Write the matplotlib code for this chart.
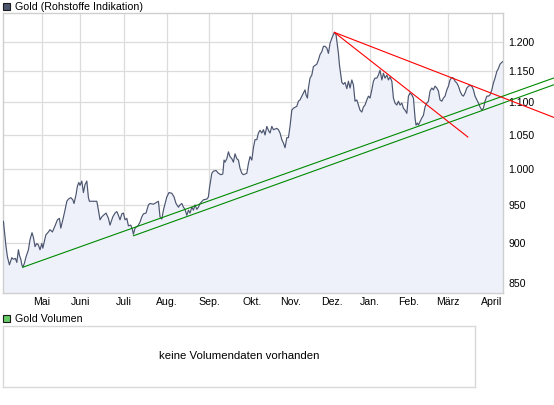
import matplotlib
matplotlib.use('Agg')
import matplotlib.pyplot as plt
from matplotlib.patches import Rectangle
from matplotlib.ticker import NullLocator

# Gold price, one year (trading-day index vs. USD)
DAYS = [
    0.2, 1.5, 2.2, 3.2, 4.4, 5.2, 6.2, 6.9, 7.7, 8.2, 8.9, 9.4, 9.9, 10.7, 11.5, 12.7,
    13.5, 14.5, 15.2, 16.0, 16.9, 17.7, 18.5, 19.4, 19.9, 20.7, 21.4, 22.7, 23.5, 24.7,
    26.0, 27.2, 28.2, 28.9, 29.9, 31.0, 31.9, 32.7, 33.9, 34.9, 35.5, 36.5, 37.2, 37.9,
    38.5, 39.4, 40.2, 41.0, 41.9, 42.7, 43.2, 44.4, 46.9, 47.7, 48.5, 49.4, 50.2, 51.5,
    52.7, 53.5, 54.9, 56.0, 56.9, 57.7, 58.5, 59.4, 60.2, 61.0, 61.9, 62.7, 63.9, 64.7,
    65.2, 66.0, 66.9, 67.7, 68.5, 69.4, 70.2, 71.5, 72.7, 73.5, 75.2, 76.5, 77.7, 78.5,
    79.4, 80.2, 81.9, 83.0, 84.4, 85.5, 86.5, 87.7, 88.5, 89.4, 90.2, 91.0, 91.9, 92.7,
    93.5, 94.4, 95.2, 96.0, 96.9, 97.7, 98.5, 100.2, 101.9, 102.7, 103.2, 103.5, 104.4,
    105.2, 106.5, 107.7, 108.9, 109.9, 110.5, 111.0, 111.9, 112.7, 113.5, 114.4, 115.2,
    116.0, 116.9, 117.7, 118.5, 119.4, 120.2, 121.9, 122.7, 123.5, 124.4, 125.2, 126.0,
    126.9, 127.7, 128.5, 129.4, 130.2, 131.0, 131.9, 132.7, 133.5, 134.4, 135.2, 136.9,
    137.7, 138.5, 139.4, 140.2, 141.0, 141.9, 142.7, 143.5, 144.4, 145.2, 146.9, 147.7,
    148.5, 149.4, 150.2, 151.0, 151.5, 152.2, 152.7, 153.5, 154.4, 155.2, 156.9, 157.7,
    158.5, 159.4, 160.2, 161.0, 161.9, 162.7, 163.5, 164.4, 165.7, 166.5, 167.2, 167.7,
    168.2, 168.9, 169.4, 170.2, 171.0, 171.9, 172.7, 173.5, 174.4, 175.2, 176.0, 176.9,
    177.7, 178.5, 179.4, 180.2, 181.0, 181.9, 182.7, 183.5, 184.4, 185.2, 186.0, 186.9,
    187.7, 188.5, 189.4, 190.2, 191.0, 191.9, 192.7, 193.5, 194.4, 195.2, 196.0, 196.9,
    197.7, 198.5, 199.4, 200.2, 201.0, 201.9, 202.7, 203.5, 204.4, 205.2, 206.0, 206.5,
    207.2, 207.7, 208.5, 209.4, 210.2, 211.0, 211.9, 212.7, 213.5, 214.4, 215.2, 216.0,
    216.9, 217.7, 218.5, 219.4, 220.2, 221.0, 221.9, 222.7, 223.5, 224.4, 225.2, 226.0,
    226.9, 227.7, 228.5, 229.4, 230.2, 231.0, 231.9, 232.7, 233.5, 234.4, 235.2, 236.0,
    236.9, 237.7, 238.5, 239.4, 240.2, 241.0, 241.9, 242.7, 243.5, 244.4, 245.2, 246.0,
    246.9, 247.7, 248.5, 249.7,
]
PRICES = [
    928, 895, 882, 872, 881, 879, 880, 875, 891, 884, 879, 872, 869, 874, 882, 891,
    904, 913, 907, 895, 899, 897, 891, 899, 893, 902, 910, 914, 917, 914,
    922, 930, 932, 919, 930, 943, 955, 958, 960, 957, 952, 964, 976, 981,
    977, 983, 967, 978, 983, 960, 955, 955, 955, 943, 930, 934, 936, 939,
    932, 923, 934, 939, 941, 936, 930, 938, 939, 930, 932, 922, 923, 917,
    911, 919, 921, 923, 927, 934, 938, 939, 950, 952, 951, 953, 955, 934,
    931, 943, 961, 967, 966, 961, 952, 947, 950, 952, 947, 944, 936, 943,
    939, 947, 943, 950, 944, 947, 952, 957, 958, 961, 973, 978, 994,
    997, 998, 994, 992, 993, 1013, 1010, 1015, 1025, 1018, 1015, 1010,
    1022, 1015, 1013, 1001, 994, 992, 994, 1008, 1018, 1013, 1031, 1043,
    1043, 1053, 1057, 1053, 1058, 1050, 1063, 1057, 1053, 1063, 1058, 1060,
    1058, 1053, 1043, 1038, 1031, 1046, 1046, 1063, 1088, 1091, 1094, 1102,
    1104, 1110, 1115, 1120, 1112, 1107, 1123, 1139, 1144, 1158, 1162, 1169,
    1178, 1183, 1192, 1192, 1189, 1180, 1197, 1206, 1216, 1212, 1194, 1180,
    1161, 1144, 1132, 1129, 1132, 1122, 1134, 1123, 1136, 1128, 1102, 1104,
    1096, 1088, 1085, 1093, 1096, 1104, 1110, 1107, 1120, 1134, 1139, 1139,
    1144, 1152, 1136, 1147, 1139, 1144, 1136, 1141, 1134, 1107, 1099, 1096,
    1102, 1096, 1099, 1091, 1088, 1083, 1110, 1115, 1112, 1107, 1076, 1065,
    1068, 1065, 1070, 1076, 1080, 1093, 1099, 1102, 1118, 1123, 1120, 1126,
    1123, 1118, 1104, 1102, 1107, 1110, 1120, 1126, 1136, 1140, 1139, 1134,
    1131, 1126, 1118, 1112, 1110, 1115, 1123, 1126, 1127, 1126, 1120, 1110,
    1104, 1099, 1093, 1088, 1091, 1102, 1110, 1110, 1112, 1120, 1131, 1139,
    1150, 1155, 1162, 1166,
]

# Trend lines: (start day, start price, end day, end price)
GREEN_LINES = [
    (9.9, 869, 275.2, 1139),
    (65.2, 909, 275.2, 1128),
]
RED_LINES = [
    (165.7, 1216, 275.2, 1077),
    (165.7, 1216, 232.4, 1047),
]

# Axis ticks
MONTH_POS = [19.5, 38.5, 60.5, 82, 103, 124.5, 144, 164.5, 183.5, 203, 222.5, 244.5]
MONTH_LABELS = ['Mai', 'Juni', 'Juli', 'Aug.', 'Sep.', 'Okt.', 'Nov.', 'Dez.',
                'Jan.', 'Feb.', 'März', 'April']
PRICE_TICKS = [850, 900, 950, 1000, 1050, 1100, 1150, 1200]
PRICE_LABELS = ['850', '900', '950', '1.000', '1.050', '1.100', '1.150', '1.200']

LINE_COLOR = '#4b556f'
FILL_COLOR = '#eef1fa'
GRID_COLOR = '#dcdcdc'
FONT = 'Liberation Sans'

plt.rcParams['font.family'] = [FONT, 'DejaVu Sans']

fig = plt.figure(figsize=(5.54, 4.05), dpi=100)

# Price panel
ax = fig.add_axes([0.0049, 0.2758, 0.9031, 0.6914])
ax.set_yscale('log')
ax.fill_between(DAYS, PRICES, 800, color=FILL_COLOR, lw=0, zorder=1)
ax.plot(DAYS, PRICES, color=LINE_COLOR, lw=0.85, zorder=3)

for x0, y0, x1, y1 in GREEN_LINES:
    ax.plot([x0, x1], [y0, y1], color='#008a00', lw=0.8, zorder=4, clip_on=False)
for x0, y0, x1, y1 in RED_LINES:
    ax.plot([x0, x1], [y0, y1], color='#ff0000', lw=0.8, zorder=4, clip_on=False)

ax.set_xlim(-0.15, 250)
ax.set_ylim(837.2, 1249.7)

ax.set_xticks(MONTH_POS)
ax.set_xticklabels(MONTH_LABELS, fontsize=7.6)
ax.set_yticks(PRICE_TICKS)
ax.set_yticklabels(PRICE_LABELS, fontsize=7.6)
ax.yaxis.set_minor_locator(NullLocator())
ax.yaxis.tick_right()
ax.tick_params(axis='both', length=0)
ax.tick_params(axis='x', pad=3)
ax.tick_params(axis='y', pad=4)
ax.grid(True, color=GRID_COLOR, lw=0.9, zorder=0)
ax.set_axisbelow(True)
for spine in ax.spines.values():
    spine.set_color('#cfcfcf')
    spine.set_linewidth(1.0)

# Title with legend square
fig.patches.append(Rectangle((3 / 554, 1 - 10 / 405), 7 / 554, 7 / 405,
                             transform=fig.transFigure, facecolor='#4b556f',
                             edgecolor='#1a1a1a', lw=0.8))
fig.text(15 / 554, 1 - 6.5 / 405, 'Gold (Rohstoffe Indikation)', fontsize=7.7,
         va='center', ha='left')

# Volume panel
fig.patches.append(Rectangle((3 / 554, 1 - 322 / 405), 7 / 554, 7 / 405,
                             transform=fig.transFigure, facecolor='#66cc66',
                             edgecolor='#1a1a1a', lw=0.8))
fig.text(15 / 554, 1 - 318.5 / 405, 'Gold Volumen', fontsize=7.7,
         va='center', ha='left')

vax = fig.add_axes([0.0049, 0.0452, 0.8525, 0.1498])
vax.set_xticks([])
vax.set_yticks([])
for spine in vax.spines.values():
    spine.set_color('#d9d9d9')
    spine.set_linewidth(1.0)
vax.text(0.5, 0.5, 'keine Volumendaten vorhanden', fontsize=8.2,
         ha='center', va='center', transform=vax.transAxes)

fig.savefig('out.png', dpi=100)
